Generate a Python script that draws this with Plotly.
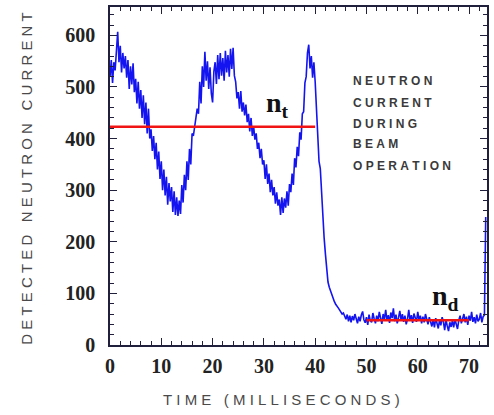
import plotly.graph_objects as go

# Detected neutron current, sampled every 0.25 ms (one row per millisecond)
SAMPLE_MS = 0.25
current = [
    520, 552, 508, 548,
    532, 578, 607, 548,
    580, 528, 566, 536,
    560, 518, 552, 496,
    540, 505, 546, 490,
    516, 468, 510, 458,
    494, 440, 484, 428,
    470, 410, 458, 400,
    418, 376, 405, 360,
    392, 340, 375, 322,
    356, 300, 340, 290,
    326, 272, 314, 278,
    306, 258, 298, 252,
    286, 250, 280, 254,
    310, 276, 330, 300,
    356, 320, 380, 350,
    410, 405, 428, 440,
    458, 448, 510, 468,
    540, 500, 568, 512,
    550, 496, 538, 488,
    470, 530, 548, 506,
    562, 515, 566, 522,
    556, 512, 570, 528,
    562, 520, 574, 535,
    576, 522, 510, 478,
    490, 458, 492, 452,
    470, 445, 466, 432,
    448, 414, 440, 405,
    424, 398, 410, 380,
    392, 362, 380, 350,
    358, 322, 350, 312,
    332, 296, 320, 290,
    306, 274, 296, 270,
    282, 252, 286, 256,
    284, 266, 298, 270,
    312, 296, 332, 310,
    362, 344, 384, 366,
    412, 398, 448, 452,
    508, 520, 566, 582,
    536, 560, 518, 548,
    510, 466, 420, 356,
    342, 290, 230, 207,
    176, 140, 122, 112,
    104, 96, 90, 84,
    79, 74, 72, 68,
    65, 60, 62, 54,
    50, 59, 46, 57,
    44, 56, 48, 60,
    52, 42, 55, 46,
    58, 65, 49, 43,
    54, 39, 59, 47,
    44, 62, 51, 42,
    57, 46, 64, 49,
    41, 60, 50, 68,
    47, 58, 43, 63,
    52, 71, 46, 59,
    42, 53, 66, 48,
    60, 45, 57, 40,
    50, 68, 47, 58,
    43, 61, 51, 45,
    64, 48, 57, 42,
    55, 44, 60, 47,
    40, 54, 43, 36,
    49, 34, 52, 41,
    32, 48, 38, 54,
    45, 29, 49, 37,
    27, 44, 35, 47,
    34, 50, 39, 31,
    48, 57, 42, 52,
    60, 44, 55, 39,
    57, 47, 64, 45,
    54, 42, 59, 46,
    50, 62, 44, 55,
    58, 248,
]
time_ms = [i * SAMPLE_MS for i in range(len(current))]

# Average levels: during beam (n_t) and after beam (n_d)
nt_level = 423
nt_span = [0, 40]
nd_level = 48
nd_span = [50, 70]

x_ticks = [0, 10, 20, 30, 40, 50, 60, 70]
y_ticks = [0, 100, 200, 300, 400, 500, 600]

caption_lines = ["NEUTRON", "CURRENT", "DURING", "BEAM", "OPERATION"]
caption_y = [512, 469, 429, 389, 347]

NB = "\u00a0"


def spaced(text):
    """Letter-spaced label built with non-breaking spaces."""
    return NB.join(NB if ch == " " else ch for ch in text)


fig = go.Figure()
fig.add_trace(go.Scatter(
    x=time_ms, y=current, mode="lines",
    line=dict(color="#1414f0", width=1.6), hoverinfo="skip",
))
fig.add_trace(go.Scatter(
    x=nt_span, y=[nt_level, nt_level], mode="lines",
    line=dict(color="#f01414", width=2.4), hoverinfo="skip",
))
fig.add_trace(go.Scatter(
    x=nd_span, y=[nd_level, nd_level], mode="lines",
    line=dict(color="#f01414", width=2.4), hoverinfo="skip",
))

frame = "#20203c"
tick_font = dict(family="Liberation Serif", size=20, color="#222222", weight="bold")
fig.update_xaxes(
    range=[0, 73.5], tickvals=x_ticks, ticks="inside", ticklen=7, tickwidth=1,
    tickcolor=frame, showline=True, linecolor=frame, linewidth=1.6,
    mirror="allticks", showgrid=False, zeroline=False, tickfont=tick_font,
    ticklabelstandoff=2,
    minor=dict(dtick=2, ticks="inside", ticklen=4, tickcolor=frame, showgrid=False),
)
fig.update_yaxes(
    range=[0, 655], tickvals=y_ticks, ticks="inside", ticklen=7, tickwidth=1,
    tickcolor=frame, showline=True, linecolor=frame, linewidth=1.6,
    mirror="allticks", showgrid=False, zeroline=False, tickfont=tick_font,
    ticklabelstandoff=9,
    minor=dict(dtick=20, ticks="inside", ticklen=4, tickcolor=frame, showgrid=False),
)

annotations = [
    dict(text=spaced("TIME (MILLISECONDS)"), xref="paper", yref="paper",
         x=0.4536, y=-0.162, showarrow=False, xanchor="center", yanchor="middle",
         font=dict(family="Liberation Sans", size=15, color="#4a4a4a")),
    dict(text=spaced("DETECTED NEUTRON CURRENT"), xref="paper", yref="paper",
         x=-0.220, y=0.492, showarrow=False, textangle=-90,
         xanchor="center", yanchor="middle",
         font=dict(family="Liberation Sans", size=15, color="#4a4a4a")),
    dict(text="n<sub>t</sub>", x=32.6, y=466, showarrow=False,
         xanchor="center", yanchor="middle",
         font=dict(family="Liberation Serif", size=28, color="#111111", weight="bold")),
    dict(text="n<sub>d</sub>", x=65.5, y=92, showarrow=False,
         xanchor="center", yanchor="middle",
         font=dict(family="Liberation Serif", size=28, color="#111111", weight="bold")),
]
for line, yv in zip(caption_lines, caption_y):
    annotations.append(dict(
        text=spaced(line), x=47.0, y=yv, showarrow=False,
        xanchor="left", yanchor="middle",
        font=dict(family="Liberation Sans", size=12, color="#3a3a3a", weight="bold"),
    ))

fig.update_layout(
    width=494, height=415,
    margin=dict(l=110, r=7, t=5, b=70),
    paper_bgcolor="white", plot_bgcolor="white",
    showlegend=False, annotations=annotations,
)

fig.write_html("out.html")
